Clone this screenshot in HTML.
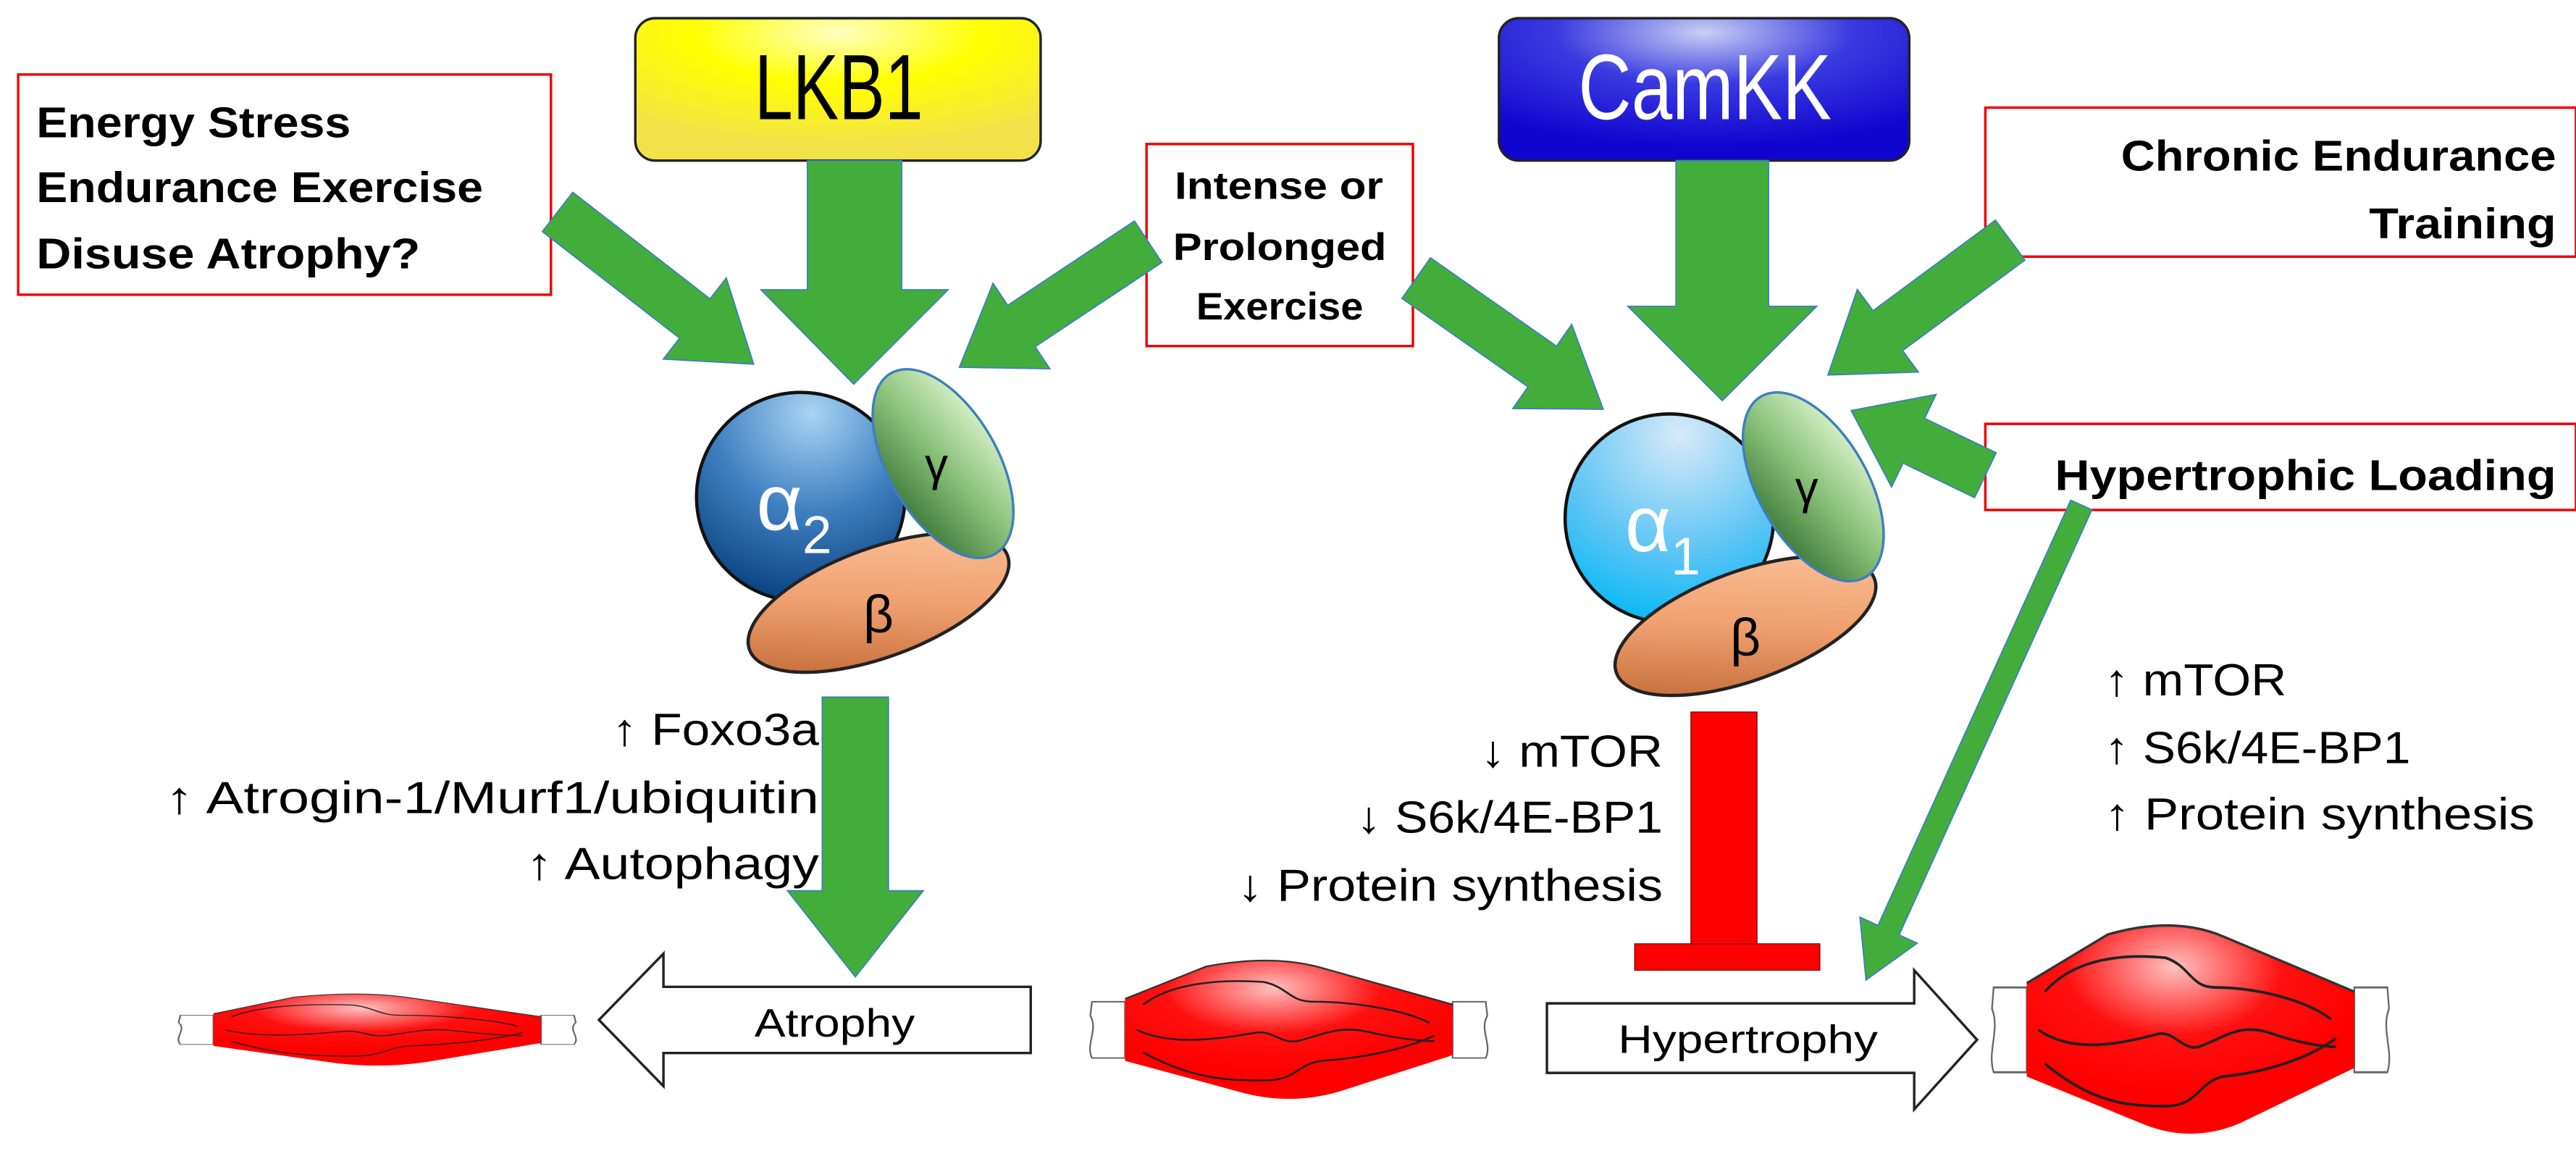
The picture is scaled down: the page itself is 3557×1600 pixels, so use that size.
<!DOCTYPE html>
<html><head><meta charset="utf-8"><style>
html,body{margin:0;padding:0;background:#fff}
svg{display:block}
text{font-family:"Liberation Sans",sans-serif}
</style></head><body>
<svg width="3557" height="1600" viewBox="0 0 1557 700" preserveAspectRatio="none" xmlns="http://www.w3.org/2000/svg">
<defs>
<radialGradient id="yel" cx="0.5" cy="0.1" r="0.8"><stop offset="0" stop-color="#ffffc0"/><stop offset="0.45" stop-color="#ffff00"/><stop offset="1" stop-color="#f2e24a"/></radialGradient>
<radialGradient id="blu" cx="0.5" cy="0.1" r="0.8"><stop offset="0" stop-color="#c8d0f4"/><stop offset="0.45" stop-color="#3a3ae0"/><stop offset="1" stop-color="#1005d0"/></radialGradient>
<radialGradient id="a2" cx="0.55" cy="0.1" r="0.95"><stop offset="0" stop-color="#a8d4f4"/><stop offset="0.5" stop-color="#3f7fc0"/><stop offset="1" stop-color="#053c7a"/></radialGradient>
<radialGradient id="a1" cx="0.55" cy="0.1" r="0.95"><stop offset="0" stop-color="#d8eaf8"/><stop offset="0.6" stop-color="#5cc4f5"/><stop offset="1" stop-color="#00b8f5"/></radialGradient>
<linearGradient id="gam" x1="1" y1="0.3" x2="0" y2="0.7"><stop offset="0" stop-color="#d8f0c8"/><stop offset="0.5" stop-color="#88c078"/><stop offset="1" stop-color="#3f7a3a"/></linearGradient>
<linearGradient id="bet" x1="1" y1="0" x2="0" y2="1"><stop offset="0" stop-color="#fbc8a0"/><stop offset="0.5" stop-color="#f0a070"/><stop offset="1" stop-color="#b8602a"/></linearGradient>
<radialGradient id="mus" cx="0.45" cy="0.2" r="0.6"><stop offset="0" stop-color="#ffc0c0"/><stop offset="0.55" stop-color="#ff1010"/><stop offset="1" stop-color="#ff0000"/></radialGradient>
<g id="muscle">
<path d="M-119,-20 L-99,-20 L-99,20 L-119,20 C-123,10 -115,0 -120,-10 Z" fill="#fff" stroke="#666" stroke-width="1"/>
<path d="M119,-20 L99,-20 L99,20 L119,20 C123,10 115,0 120,-10 Z" fill="#fff" stroke="#666" stroke-width="1"/>
<path d="M-99,-22 L-50,-45 Q-10,-54 20,-44 L99,-18 L99,18 L30,44 Q0,54 -30,44 L-99,22 Z" fill="url(#mus)"/>
<path d="M-99,-22 L-50,-45 Q-10,-54 20,-44 L99,-18" fill="none" stroke="#333" stroke-width="1.2"/>
<g fill="none" stroke="#222" stroke-width="1.3">
<path d="M-88,-18 C-70,-34 -40,-36 -15,-34 C0,-30 0,-20 15,-20 C40,-20 70,-14 85,-5"/>
<path d="M-92,0 C-70,12 -40,6 -20,2 C-10,0 -5,10 5,8 C20,4 30,-4 50,2 C65,6 80,8 88,8"/>
<path d="M-88,16 C-60,34 -40,36 -15,36 C5,36 5,24 20,22 C45,20 70,14 88,4"/>
</g>
</g>
</defs>

<!-- boxes top -->
<rect x="384" y="11" width="245" height="86" rx="12" fill="url(#yel)" stroke="#222" stroke-width="1.5"/>
<text x="456" y="72" font-size="56" textLength="102" lengthAdjust="spacingAndGlyphs" fill="#000">LKB1</text>
<rect x="906" y="11" width="248" height="86" rx="12" fill="url(#blu)" stroke="#222" stroke-width="1.5"/>
<text x="954" y="72" font-size="56" textLength="153" lengthAdjust="spacingAndGlyphs" fill="#fff">CamKK</text>

<rect x="11" y="45" width="322" height="133" fill="#fff" stroke="#e00" stroke-width="1.5"/>
<g font-size="26" font-weight="bold">
<text x="22" y="83" textLength="190" lengthAdjust="spacingAndGlyphs">Energy Stress</text>
<text x="22" y="122" textLength="270" lengthAdjust="spacingAndGlyphs">Endurance Exercise</text>
<text x="22" y="162" textLength="232" lengthAdjust="spacingAndGlyphs">Disuse Atrophy?</text></g>

<rect x="693" y="87" width="161" height="122" fill="#fff" stroke="#e00" stroke-width="1.5"/>
<g font-size="23" font-weight="bold">
<text x="710" y="120" textLength="126" lengthAdjust="spacingAndGlyphs">Intense or</text>
<text x="709" y="157" textLength="129" lengthAdjust="spacingAndGlyphs">Prolonged</text>
<text x="723" y="193" textLength="101" lengthAdjust="spacingAndGlyphs">Exercise</text></g>

<rect x="1200" y="65" width="357" height="90" fill="#fff" stroke="#e00" stroke-width="1.5"/>
<g font-size="26" font-weight="bold">
<text x="1282" y="103" textLength="263" lengthAdjust="spacingAndGlyphs">Chronic Endurance</text>
<text x="1432" y="144" textLength="113" lengthAdjust="spacingAndGlyphs">Training</text></g>

<rect x="1200" y="256" width="357" height="52" fill="#fff" stroke="#e00" stroke-width="1.5"/>
<text x="1242" y="296" font-size="26" font-weight="bold" textLength="303" lengthAdjust="spacingAndGlyphs">Hypertrophic Loading</text>

<!-- green arrows -->
<g fill="#42ad3a" stroke="#3c7fc0" stroke-width="0.8">
<polygon points="488,97 545,97 545,175 573,175 516,232 460,175 488,175"/>
<polygon points="1013,97 1069,97 1069,185 1098,185 1041,242 984,185 1013,185"/>
<polygon transform="translate(337,128) rotate(37.8)" points="0,-15 105,-15 105,-31 150,0 105,31 105,15 0,15"/>
<polygon transform="translate(694,146) rotate(146.4)" points="0,-15 92,-15 92,-31 137,0 92,31 92,15 0,15"/>
<polygon transform="translate(856,168) rotate(35)" points="0,-15 93,-15 93,-31 138,0 93,31 93,15 0,15"/>
<polygon transform="translate(1215,145) rotate(143.5)" points="0,-15 92,-15 92,-31 137,0 92,31 92,15 0,15"/>
<polygon transform="translate(1200,287) rotate(205.7)" points="0,-15 48,-15 48,-31 90,0 48,31 48,15 0,15"/>
<polygon transform="translate(1258,305) rotate(114.4)" points="0,-7 282,-7 282,-19 315,0 282,19 282,7 0,7"/>
<polygon points="497,421 537,421 537,538 558,538 517,590 476,538 497,538"/>
</g>

<!-- AMPK left -->
<circle cx="484" cy="300" r="63" fill="url(#a2)" stroke="#111" stroke-width="2"/>
<ellipse cx="531" cy="364" rx="83" ry="33" transform="rotate(-20 531 364)" fill="url(#bet)" stroke="#222" stroke-width="2"/>
<ellipse cx="570" cy="280" rx="33" ry="63" transform="rotate(-30 570 280)" fill="url(#gam)" stroke="#3c7fc0" stroke-width="1.5"/>
<text x="480" y="320" font-size="48" fill="#fff" text-anchor="middle" font-family="Liberation Serif">α<tspan font-size="32" dy="14">2</tspan></text>
<text x="531" y="382" font-size="32" text-anchor="middle">β</text>
<text x="566" y="290" font-size="28" text-anchor="middle">γ</text>

<!-- AMPK right -->
<circle cx="1009" cy="313" r="63" fill="url(#a1)" stroke="#111" stroke-width="2"/>
<ellipse cx="1055" cy="378" rx="83" ry="33" transform="rotate(-20 1055 378)" fill="url(#bet)" stroke="#222" stroke-width="2"/>
<ellipse cx="1096" cy="294" rx="33" ry="63" transform="rotate(-30 1096 294)" fill="url(#gam)" stroke="#3c7fc0" stroke-width="1.5"/>
<text x="1005" y="333" font-size="48" fill="#fff" text-anchor="middle" font-family="Liberation Serif">α<tspan font-size="32" dy="14">1</tspan></text>
<text x="1055" y="396" font-size="32" text-anchor="middle">β</text>
<text x="1092" y="304" font-size="28" text-anchor="middle">γ</text>

<!-- red T -->
<rect x="1022" y="430" width="40" height="144" fill="#f00" stroke="#600" stroke-width="0.5"/>
<rect x="988" y="570" width="112" height="16" fill="#f00" stroke="#600" stroke-width="0.5"/>

<!-- text lists -->
<g font-size="27">
<text x="370" y="450" textLength="125" lengthAdjust="spacingAndGlyphs">↑ Foxo3a</text>
<text x="100" y="491" textLength="395" lengthAdjust="spacingAndGlyphs">↑ Atrogin-1/Murf1/ubiquitin</text>
<text x="318" y="531" textLength="177" lengthAdjust="spacingAndGlyphs">↑ Autophagy</text>
<text x="895" y="463" textLength="110" lengthAdjust="spacingAndGlyphs">↓ mTOR</text>
<text x="820" y="503" textLength="185" lengthAdjust="spacingAndGlyphs">↓ S6k/4E-BP1</text>
<text x="748" y="544" textLength="257" lengthAdjust="spacingAndGlyphs">↓ Protein synthesis</text>
<text x="1272" y="420" textLength="110" lengthAdjust="spacingAndGlyphs">↑ mTOR</text>
<text x="1272" y="461" textLength="185" lengthAdjust="spacingAndGlyphs">↑ S6k/4E-BP1</text>
<text x="1272" y="501" textLength="260" lengthAdjust="spacingAndGlyphs">↑ Protein synthesis</text>
</g>

<!-- block arrows -->
<polygon points="623,596 401,596 401,576 362,616 401,656 401,636 623,636" fill="#fff" stroke="#222" stroke-width="1.5"/>
<text x="456" y="626" font-size="24" textLength="97" lengthAdjust="spacingAndGlyphs">Atrophy</text>
<polygon points="935,606 1157,606 1157,586 1195,628 1157,670 1157,648 935,648" fill="#fff" stroke="#222" stroke-width="1.5"/>
<text x="978" y="636" font-size="24" textLength="157" lengthAdjust="spacingAndGlyphs">Hypertrophy</text>

<!-- muscles -->
<use href="#muscle" transform="translate(228,622) scale(1.0,0.44)"/>
<use href="#muscle" transform="translate(779,622) scale(1.0,0.85)"/>
<use href="#muscle" transform="translate(1324,622) scale(1.0,1.28)"/>
</svg>
</body></html>
